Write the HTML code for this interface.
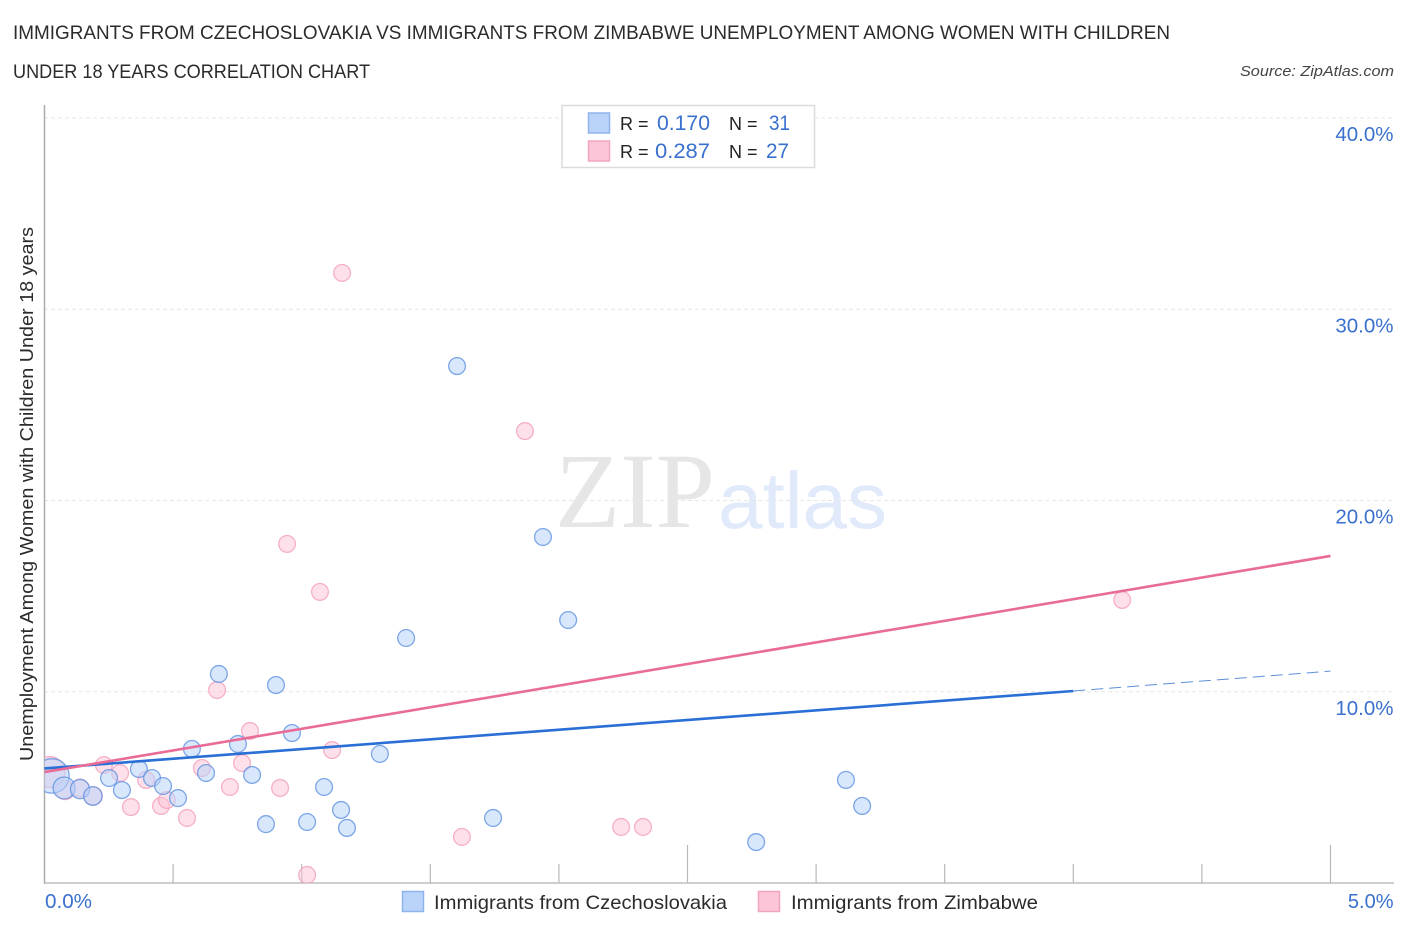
<!DOCTYPE html>
<html lang="en">
<head>
<meta charset="utf-8">
<title>Immigrants from Czechoslovakia vs Immigrants from Zimbabwe Correlation Chart</title>
<style>
html,body{margin:0;padding:0;background:#fff;width:1406px;height:930px;overflow:hidden}
svg{display:block}
text{font-family:"Liberation Sans",sans-serif}
</style>
</head>
<body>
<svg id="chart" xmlns="http://www.w3.org/2000/svg" width="1406" height="930" viewBox="0 0 1406 930">
  <defs>
    <clipPath id="plot-clip"><rect x="44.500" y="100" width="1350" height="783"/></clipPath>
  </defs>
  <text x="13" y="39" font-size="19" fill="#2b2b2b" textLength="1157" lengthAdjust="spacingAndGlyphs">IMMIGRANTS FROM CZECHOSLOVAKIA VS IMMIGRANTS FROM ZIMBABWE UNEMPLOYMENT AMONG WOMEN WITH CHILDREN</text>
  <text x="13" y="78" font-size="19" fill="#2b2b2b" textLength="357" lengthAdjust="spacingAndGlyphs">UNDER 18 YEARS CORRELATION CHART</text>
  <text x="1394" y="76" font-size="15" font-style="italic" fill="#444" text-anchor="end" textLength="154" lengthAdjust="spacingAndGlyphs">Source: ZipAtlas.com</text>

  <g>
    <text x="555" y="527" font-size="107" fill="#e6e6e6" style="font-family:'Liberation Serif',serif" textLength="160" lengthAdjust="spacingAndGlyphs">ZIP</text>
    <text x="718" y="528" font-size="80" fill="#e1eafa" textLength="169" lengthAdjust="spacingAndGlyphs">atlas</text>
  </g>

  <g id="grid"></g>
  <g id="axes"></g>
  <g clip-path="url(#plot-clip)">
    <g id="points-pink"></g>
    <g id="points-blue"></g>
  </g>
  <g id="trends"></g>
  <g id="labels"></g>

  <text transform="translate(33,761) rotate(-90)" font-size="18.5" fill="#2b2b2b" textLength="534" lengthAdjust="spacingAndGlyphs">Unemployment Among Women with Children Under 18 years</text>

  <g>
    <rect x="562" y="105.500" width="252.500" height="62" fill="#fff" stroke="#dcdcdc" stroke-width="1.500"/>
    <rect x="588.500" y="113" width="21" height="20" fill="#b9d3f9" stroke="#8fb4ec" stroke-width="1.500"/>
    <rect x="588.500" y="141" width="21" height="20" fill="#fcc6d8" stroke="#f2a5be" stroke-width="1.500"/>
    <text x="620" y="130" font-size="18" fill="#222">R =</text>
    <text x="657" y="130" font-size="21" fill="#3a70ce" textLength="53" lengthAdjust="spacingAndGlyphs">0.170</text>
    <text x="729" y="130" font-size="18" fill="#222">N =</text>
    <text x="769" y="130" font-size="21" fill="#3a70ce" textLength="21" lengthAdjust="spacingAndGlyphs">31</text>
    <text x="620" y="158" font-size="18" fill="#222">R =</text>
    <text x="655" y="158" font-size="21" fill="#3a70ce" textLength="55" lengthAdjust="spacingAndGlyphs">0.287</text>
    <text x="729" y="158" font-size="18" fill="#222">N =</text>
    <text x="766" y="158" font-size="21" fill="#3a70ce" textLength="23" lengthAdjust="spacingAndGlyphs">27</text>
  </g>

  <g>
    <g>
      <rect x="402.500" y="891.500" width="21" height="20" fill="#b9d3f9" stroke="#8fb4ec" stroke-width="1.500"/>
      <text x="434" y="909" font-size="19.500" fill="#2b2b2b" textLength="293" lengthAdjust="spacingAndGlyphs">Immigrants from Czechoslovakia</text>
    </g>
    <g>
      <rect x="758.500" y="891.500" width="21" height="20" fill="#fcc6d8" stroke="#f2a5be" stroke-width="1.500"/>
      <text x="791" y="909" font-size="19.500" fill="#2b2b2b" textLength="247" lengthAdjust="spacingAndGlyphs">Immigrants from Zimbabwe</text>
    </g>
  </g>
</svg>
<script>
var blueX = [0.029,0.076,0.138,0.188,0.251,0.301,0.367,0.418,0.461,0.519,0.573,0.628,0.678,0.752,0.807,0.861,0.900,0.962,1.021,1.087,1.153,1.176,1.304,1.406,1.604,1.744,1.938,2.036,2.767,3.116,3.179];
var blueY = [5.60,4.97,4.91,4.55,5.49,4.86,5.96,5.49,5.07,4.44,7.01,5.75,10.93,7.27,5.65,3.08,10.35,7.84,3.19,5.02,3.82,2.88,6.75,12.81,27.03,3.40,18.09,13.75,2.14,5.39,4.03];
var blueWeight = [4.2,1.7,1.3,1.2,1,1,1,1,1,1,1,1,1,1,1,1,1,1,1,1,1,1,1,1,1,1,1,1,1,1,1];
var pinkX = [0.020,0.080,0.138,0.189,0.231,0.294,0.336,0.395,0.453,0.476,0.554,0.612,0.671,0.721,0.768,0.799,0.916,0.943,1.021,1.071,1.118,1.157,1.623,1.868,2.242,2.327,4.190];
var pinkY = [5.80,4.86,4.97,4.55,6.17,5.75,3.97,5.39,4.03,4.34,3.40,6.01,10.09,5.02,6.27,7.95,4.97,17.73,0.42,15.22,6.95,31.90,2.41,23.63,2.93,2.93,14.80];
var pinkWeight = [3.4,1.3,1.1,1.2,1,1,1,1,1,1,1,1,1,1,1,1,1,1,1,1,1,1,1,1,1,1,1];
var blueTrendX = [0,4.0];
var blueTrendY = [5.99,10.04];
var blueForecastX = [4.0,5.0];
var blueForecastY = [10.04,11.08];
var pinkTrendX = [0,5.0];
var pinkTrendY = [5.80,17.10];
var yTickValues = [10,20,30,40];
var yTickLabels = ['10.0%','20.0%','30.0%','40.0%'];
var xTickValues = [0,0.5,1,1.5,2,2.5,3,3.5,4,4.5,5];
var xTickMajor = [0,0,0,0,0,1,0,0,0,0,1];

var NS = 'http://www.w3.org/2000/svg';
function xPos(v){ return 44.5 + v * 257.2; }
function yPos(v){ return 883 - v * 19.125; }
function make(tag, attrs, parent){
  var el = document.createElementNS(NS, tag);
  for (var k in attrs) el.setAttribute(k, attrs[k]);
  parent.appendChild(el);
  return el;
}
var grid = document.getElementById('grid');
var axes = document.getElementById('axes');
var labels = document.getElementById('labels');
var trends = document.getElementById('trends');

yTickValues.forEach(function(v, i){
  var line = make('line', {x1:44, x2:1394, y1:yPos(v), y2:yPos(v), stroke:'#e6e6e6', 'stroke-width':1, 'stroke-dasharray':'4 3'}, grid);
  
  
  var t = make('text', {x:1393.5, y:yPos(v)+23, 'font-size':20.5, fill:'#3a70ce', 'text-anchor':'end'}, labels);
  
  
  t.textContent = yTickLabels[i];
});

var yAxis = make('line', {x1:44.5, x2:44.5, y1:105, y2:884, stroke:'#ababab', 'stroke-width':1.5}, axes);


var xAxis = make('line', {x1:44, x2:1394, y1:883, y2:883, stroke:'#bdbdbd', 'stroke-width':1.5}, axes);


xTickValues.forEach(function(v, i){
  if (v === 0) return;
  var tick = make('line', {x1:xPos(v), x2:xPos(v), y1:xTickMajor[i] ? 845 : 864, y2:883, stroke:'#b8b8b8', 'stroke-width':1.2}, axes);
  
  
});

var xLabelLeft = make('text', {x:45, y:908, 'font-size':20, fill:'#3a70ce', textLength:47, lengthAdjust:'spacingAndGlyphs'}, labels);


xLabelLeft.textContent = '0.0%';
var xLabelRight = make('text', {x:1393.5, y:908, 'font-size':20, fill:'#3a70ce', 'text-anchor':'end'}, labels);


xLabelRight.textContent = '5.0%';

function drawPoints(groupId, xs, ys, ws, fill, stroke, name){
  var g = document.getElementById(groupId);
  xs.forEach(function(x, i){
    var c = make('circle', {cx:xPos(x), cy:yPos(ys[i]), r:8.4 * Math.sqrt(ws[i]), fill:fill, 'fill-opacity':0.55, stroke:stroke, 'stroke-opacity':0.8, 'stroke-width':1.3}, g);
    
    
  });
}
drawPoints('points-pink', pinkX, pinkY, pinkWeight, '#fcc6d8', '#f2a0bb', 'zimbabwe-point');
drawPoints('points-blue', blueX, blueY, blueWeight, '#b9d3f9', '#5f92e0', 'czechoslovakia-point');

var blueLine = make('line', {x1:xPos(blueTrendX[0]), y1:yPos(blueTrendY[0]), x2:xPos(blueTrendX[1]), y2:yPos(blueTrendY[1]), stroke:'#2a6fd6', 'stroke-width':2.6}, trends);


var blueDash = make('line', {x1:xPos(blueForecastX[0]), y1:yPos(blueForecastY[0]), x2:xPos(blueForecastX[1]), y2:yPos(blueForecastY[1]), stroke:'#5d8fd6', 'stroke-width':1, 'stroke-dasharray':'12 6'}, trends);


var pinkLine = make('line', {x1:xPos(pinkTrendX[0]), y1:yPos(pinkTrendY[0]), x2:xPos(pinkTrendX[1]), y2:yPos(pinkTrendY[1]), stroke:'#e96b97', 'stroke-width':2.6}, trends);


</script>
</body>
</html>
